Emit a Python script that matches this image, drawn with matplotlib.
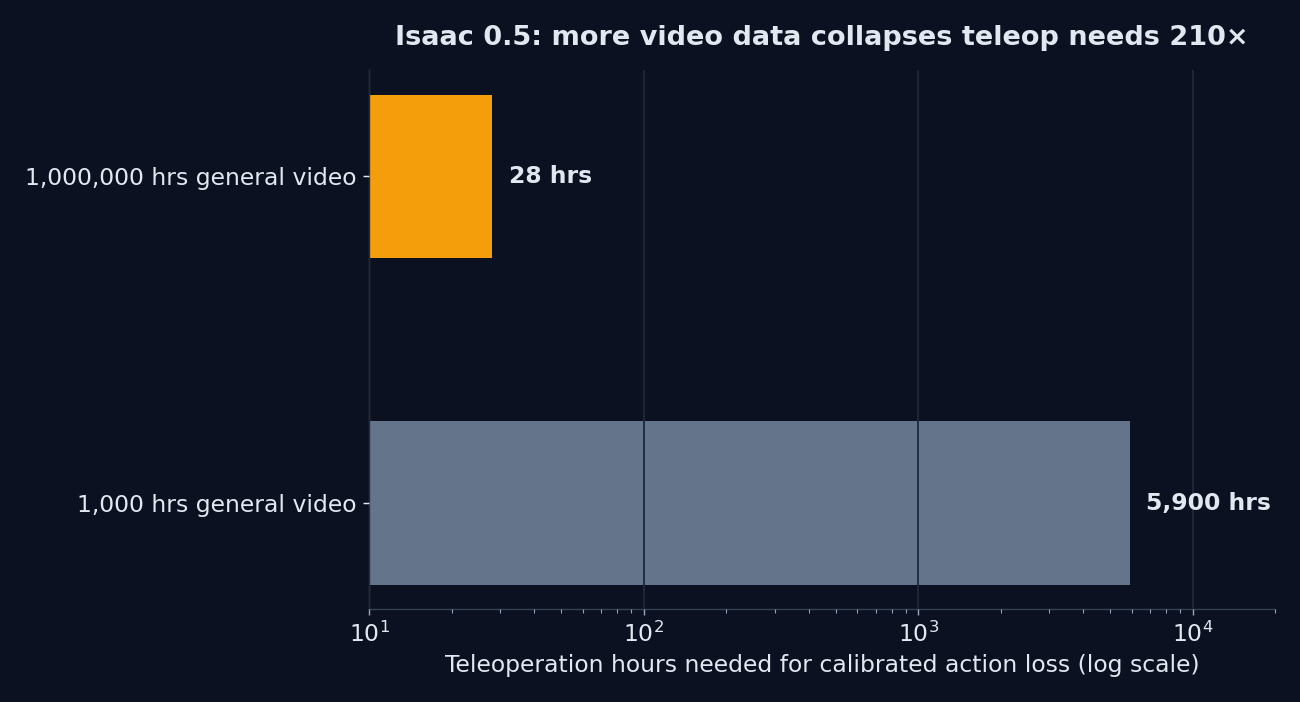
import matplotlib
matplotlib.use("Agg")
import matplotlib.pyplot as plt

# Données
categories = ["1,000 hrs general video", "1,000,000 hrs general video"]
heures_teleop = [5900, 28]
etiquettes = ["5,900 hrs", "28 hrs"]
couleurs = ["#64748b", "#f59e0b"]

FOND = "#0b1120"
TEXTE = "#e2e8f0"
GRILLE = "#1e293b"
AXE = "#334155"

fig, ax = plt.subplots(figsize=(10, 5.4), dpi=130)
fig.patch.set_facecolor(FOND)
ax.set_facecolor(FOND)

ax.barh(categories, heures_teleop, height=0.5, color=couleurs, zorder=1)
ax.set_xscale("log")
ax.set_xlim(10, 20000)

# étiquettes de valeur à droite des barres
for y, (v, txt) in enumerate(zip(heures_teleop, etiquettes)):
    ax.text(v * 1.15, y, txt, va="center", ha="left", color=TEXTE,
            fontsize=13, fontweight="bold")

ax.grid(axis="x", which="major", color=GRILLE, linewidth=1, zorder=2)
ax.set_axisbelow(False)
for s in ("top", "right"):
    ax.spines[s].set_visible(False)
for s in ("left", "bottom"):
    ax.spines[s].set_color(AXE)

ax.tick_params(axis="both", which="both", colors=TEXTE, labelsize=13)
ax.tick_params(axis="x", which="both", color="#94a3b8")
ax.set_xlabel("Teleoperation hours needed for calibrated action loss (log scale)",
              color=TEXTE, fontsize=13)
ax.set_title("Isaac 0.5: more video data collapses teleop needs 210×",
             color=TEXTE, fontsize=15, fontweight="bold", pad=14)

fig.subplots_adjust(left=0.284, right=0.981, top=0.900, bottom=0.132)
fig.savefig("out.png", dpi=130, facecolor=FOND)
